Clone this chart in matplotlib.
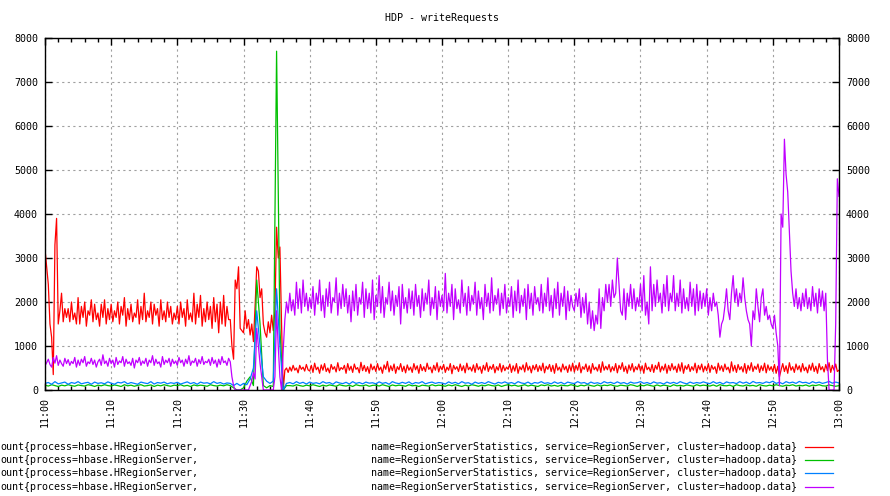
import matplotlib
matplotlib.use("Agg")
from matplotlib import pyplot as plt
import matplotlib.dates as mdates
import pandas as pd

# sample times, 11:00 .. 13:00
times15 = pd.date_range("2024-01-01 11:00", "2024-01-01 13:00", freq="15s")
times30 = pd.date_range("2024-01-01 11:00", "2024-01-01 13:00", freq="30s")

# red and purple read every 15 s, one row = 5 minutes
red = [
    3200, 2800, 2400, 1500, 1200, 350, 3300, 3900, 1500, 1800, 2200, 1550, 1850, 1650, 1850, 1550, 2000, 1600, 1750, 1500,
    2100, 1500, 1900, 1650, 2000, 1450, 1800, 1700, 2050, 1550, 1950, 1600, 1750, 1450, 1950, 1650, 2050, 1500, 1850, 1600,
    1950, 1550, 1800, 1650, 2000, 1500, 1900, 1700, 2100, 1450, 1850, 1600, 1950, 1550, 1750, 1650, 2050, 1500, 1900, 1600,
    2200, 1550, 1800, 1650, 2000, 1500, 1950, 1700, 1850, 1450, 2050, 1600, 1800, 1550, 2000, 1650, 1900, 1500, 1750, 1600,
    1900, 1500, 2000, 1650, 1850, 1450, 2050, 1600, 1750, 1550, 2200, 1500, 1950, 1650, 2150, 1450, 1850, 1550, 2000, 1600,
    1900, 1400, 2100, 1550, 1950, 1300, 2000, 1500, 2150, 1450, 1900, 1600, 1600, 1000, 700, 2500, 2300, 2800, 1400, 1350,
    1300, 1800, 1400, 1600, 1250, 1500, 1100, 1900, 2800, 2700, 2100, 2300, 1500, 1300, 1200, 1550, 1300, 1700, 1350, 1800,
    3700, 3000, 3250, 1500, 0, 450, 500, 400, 520, 430, 560, 450, 500, 390, 560, 470, 520, 430, 580, 460,
    430, 560, 400, 610, 460, 520, 380, 570, 450, 600, 420, 500, 390, 580, 470, 530, 410, 620, 440, 510,
    470, 560, 380, 600, 450, 540, 400, 590, 470, 510, 390, 630, 440, 560, 420, 530, 380, 590, 460, 540,
    420, 600, 450, 520, 380, 570, 470, 650, 410, 550, 440, 590, 380, 530, 460, 600, 420, 540, 390, 570,
    450, 520, 400, 600, 460, 550, 380, 580, 440, 530, 420, 610, 470, 520, 390, 560, 450, 620, 410, 540,
    460, 580, 400, 520, 450, 600, 370, 560, 470, 530, 420, 590, 440, 550, 390, 610, 460, 520, 430, 570,
    400, 600, 460, 530, 380, 560, 450, 620, 420, 540, 470, 580, 390, 530, 450, 600, 410, 560, 440, 520,
    470, 590, 400, 550, 430, 600, 380, 530, 460, 570, 410, 620, 450, 540, 390, 560, 460, 580, 420, 550,
    440, 610, 390, 540, 470, 580, 420, 560, 380, 600, 450, 520, 410, 590, 460, 540, 400, 570, 430, 610,
    410, 560, 450, 620, 390, 530, 470, 590, 420, 550, 380, 600, 460, 520, 430, 580, 400, 640, 450, 540,
    460, 580, 410, 530, 440, 600, 390, 560, 470, 620, 420, 540, 380, 570, 450, 600, 410, 530, 460, 590,
    430, 550, 380, 610, 460, 520, 420, 580, 400, 560, 470, 630, 410, 540, 450, 590, 380, 560, 440, 600,
    460, 540, 400, 590, 430, 620, 380, 550, 470, 580, 420, 530, 450, 610, 390, 560, 460, 590, 410, 540,
    440, 600, 400, 560, 470, 530, 380, 610, 450, 550, 420, 590, 460, 520, 390, 640, 430, 560, 400, 580,
    460, 530, 410, 600, 380, 560, 450, 620, 420, 540, 470, 590, 400, 550, 440, 610, 390, 570, 450, 530,
    420, 580, 380, 540, 300, 460, 600, 420, 550, 380, 620, 450, 530, 400, 590, 460, 550, 410, 600, 440,
    520, 390, 570, 450, 610, 420, 540, 380, 600, 460, 530, 410, 580, 440, 620, 400, 560, 450, 590, 420,
    450,
]

purple = [
    550, 620, 700, 580, 520, 740, 610, 780, 560, 680, 600, 540, 720, 600, 690, 560, 650, 600, 740, 520,
    680, 560, 700, 620, 760, 540, 640, 600, 720, 580, 680, 520, 640, 700, 560, 800, 600, 660, 540, 720,
    600, 680, 520, 740, 580, 660, 620, 760, 540, 700, 600, 640, 560, 720, 500, 680, 620, 740, 560, 660,
    600, 720, 540, 680, 620, 780, 560, 700, 600, 640, 520, 760, 580, 680, 620, 720, 540, 700, 600, 660,
    560, 740, 620, 680, 540, 700, 600, 780, 560, 660, 620, 720, 540, 690, 600, 760, 580, 650, 620, 700,
    560, 740, 600, 680, 520, 700, 580, 760, 620, 660, 560, 720, 640, 300, 100, 0, 0, 0, 0, 0,
    0, 0, 0, 0, 100, 200, 400, 250, 1400, 1000, 600, 300, 0, 0, 0, 0, 0, 0, 0, 300,
    1800, 1000, 300, 0, 900, 1600, 2000, 1750, 2200, 1800, 2050, 1700, 2450, 1850, 2300, 1750, 2500, 1900, 2200, 1800,
    2100, 1850, 2350, 1700, 2200, 1950, 2500, 1800, 2150, 1650, 2300, 1900, 2450, 1750, 2100, 2000, 2550, 1700, 2200, 1850,
    2400, 1900, 2300, 1750, 2150, 1550, 2250, 1800, 2400, 1700, 2100, 1950, 2450, 1650, 2300, 1850, 2200, 1750, 2500, 1600,
    2150, 1900, 2600, 1750, 2350, 1650, 2100, 1950, 2450, 1800, 2250, 1700, 2150, 1900, 2350, 1500, 2400, 1850, 2100, 1750,
    2300, 1850, 2250, 1700, 2400, 1900, 2150, 1650, 2300, 1800, 2200, 1950, 2500, 1700, 2100, 1850, 2350, 1600, 2250, 1900,
    2150, 1800, 2650, 1750, 2200, 1900, 2400, 1600, 2300, 1850, 2050, 1750, 2500, 1900, 2200, 1700, 2350, 1800, 2150, 1950,
    2450, 1700, 2250, 1850, 2100, 1600, 2400, 1900, 2200, 1750, 2550, 1800, 2150, 1950, 2300, 1700, 2200, 1850, 2400, 1750,
    2100, 1900, 2350, 1650, 2250, 1800, 2500, 1750, 2150, 1900, 2300, 1600, 2400, 1850, 2200, 1700, 2350, 1950, 2100, 1800,
    2400, 1750, 2200, 1900, 2550, 1800, 2150, 1650, 2300, 1850, 2450, 1700, 2200, 1900, 2350, 1600, 2250, 1800, 2150, 1900,
    1800, 2200, 1900, 2300, 1650, 2100, 1750, 2200, 1500, 2000, 1400, 1800, 1350, 1700, 1500, 2300, 1400, 2100, 1800, 2400,
    2000, 2400, 1900, 2500, 2100, 2200, 3000, 2400, 1800, 1700, 2300, 1600, 2200, 1900, 2400, 1850, 2300, 1800, 2100, 1900,
    2400, 1800, 2600, 1700, 2000, 1500, 2800, 1800, 2400, 1900, 2500, 2000, 2200, 1750, 2400, 1900, 2600, 1800, 2200, 2000,
    2600, 1800, 2200, 1900, 2500, 1750, 2300, 1850, 2100, 1800, 2450, 1900, 2300, 1700, 2400, 1800, 2250, 1850, 2200, 1900,
    2300, 1700, 2100, 1800, 2200, 1900, 2000, 1700, 1200, 1500, 1600, 1900, 2300, 1800, 1600, 2200, 2600, 2000, 2300, 1900,
    2200, 2000, 2550, 2100, 1800, 1600, 1500, 1000, 1800, 1600, 2300, 1900, 1550, 2100, 2300, 1700, 1900, 1600, 1700, 1500,
    1400, 1700, 1300, 1000, 100, 4000, 3700, 5700, 4900, 4500, 3600, 2700, 2200, 1900, 2300, 1850, 2100, 1800, 2200, 1900,
    2300, 1850, 2100, 1800, 2350, 1900, 2200, 1750, 2300, 1900, 2250, 1800, 2200, 700, 0, 0, 0, 0, 1500, 4800,
    4400,
]

# green and blue read every 30 s, one row = 10 minutes
green = [
    110, 90, 120, 100, 80, 110, 95, 120, 100, 85, 115, 100, 90, 120, 105, 80, 110, 95, 120, 100,
    90, 115, 100, 80, 120, 95, 110, 85, 105, 120, 90, 100, 115, 80, 110, 95, 120, 100, 85, 110,
    100, 120, 90, 105, 80, 115, 95, 110, 100, 85, 120, 100, 90, 110, 95, 120, 100, 50, 0, 0,
    50, 200, 300, 100, 2500, 1500, 100, 50, 100, 80, 7700, 1400, 0, 100, 100, 90, 120, 100, 85, 110,
    95, 120, 100, 80, 110, 90, 115, 100, 85, 120, 100, 90, 110, 80, 120, 100, 95, 115, 85, 105,
    110, 90, 120, 100, 80, 115, 95, 110, 100, 85, 120, 95, 105, 80, 110, 100, 90, 120, 95, 110,
    100, 85, 115, 95, 120, 100, 80, 110, 90, 120, 105, 85, 110, 95, 120, 100, 90, 115, 80, 105,
    120, 95, 110, 85, 100, 120, 90, 110, 95, 80, 115, 100, 120, 90, 105, 85, 110, 100, 95, 120,
    100, 80, 110, 95, 120, 100, 85, 115, 90, 110, 100, 120, 95, 85, 110, 100, 90, 120, 105, 80,
    110, 95, 120, 100, 85, 115, 90, 110, 100, 80, 120, 95, 105, 90, 115, 100, 85, 120, 95, 110,
    100, 90, 115, 85, 120, 100, 95, 110, 80, 120, 100, 90, 115, 95, 105, 85, 120, 100, 90, 110,
    95, 120, 100, 85, 110, 100, 120, 90, 105, 95, 115, 85, 110, 100, 120, 95, 90, 115, 100, 85,
    100,
]

blue = [
    150, 170, 130, 190, 140, 160, 180, 130, 170, 150, 190, 140, 160, 175, 130, 180, 150, 165, 140, 185,
    155, 130, 175, 160, 190, 140, 170, 150, 130, 180, 160, 145, 190, 135, 170, 155, 180, 140, 165, 150,
    175, 135, 160, 185, 145, 170, 130, 180, 155, 165, 140, 190, 150, 170, 135, 160, 150, 100, 150, 100,
    150, 120, 250, 500, 1800, 1000, 300, 200, 150, 200, 2300, 1000, 0, 150, 170, 140, 190, 150, 175, 135,
    180, 150, 165, 140, 190, 155, 170, 130, 185, 160, 145, 175, 135, 190, 150, 170, 140, 180, 155, 165,
    140, 185, 150, 170, 130, 190, 160, 145, 175, 150, 185, 135, 170, 155, 190, 140, 165, 180, 150, 170,
    160, 135, 185, 150, 175, 140, 190, 155, 165, 130, 180, 150, 170, 145, 190, 160, 135, 175, 155, 185,
    150, 170, 140, 190, 160, 145, 180, 135, 170, 155, 190, 150, 165, 140, 185, 150, 175, 135, 180, 160,
    145, 190, 155, 170, 135, 180, 150, 165, 140, 190, 160, 175, 145, 185, 150, 170, 135, 180, 155, 165,
    190, 150, 170, 140, 185, 155, 165, 135, 180, 150, 175, 145, 190, 160, 140, 180, 150, 170, 155, 185,
    160, 145, 190, 150, 175, 135, 185, 160, 170, 145, 190, 155, 180, 140, 195, 160, 170, 150, 185, 165,
    200, 150, 175, 140, 190, 160, 180, 150, 195, 165, 175, 145, 190, 160, 180, 150, 170, 195, 155, 180,
    160,
]

series_colors = ["#ff0000", "#00c000", "#0080ff", "#c000ff"]
legend_left = "ount{process=hbase.HRegionServer,"
legend_right = "name=RegionServerStatistics, service=RegionServer, cluster=hadoop.data}"

plt.rcParams["font.family"] = "DejaVu Sans Mono"
plt.rcParams["font.size"] = 7.2

fig = plt.figure(figsize=(8.9, 4.96), dpi=100)
ax = fig.add_axes([45 / 890, 106 / 496, 794 / 890, 352 / 496])

ax.plot(times15, red, color=series_colors[0], lw=0.9)
ax.plot(times30, green, color=series_colors[1], lw=0.9)
ax.plot(times30, blue, color=series_colors[2], lw=0.9)
ax.plot(times15, purple, color=series_colors[3], lw=0.9)

ax.set_xlim(times15[0], times15[-1])
ax.set_ylim(0, 8000)
ax.set_yticks(range(0, 8001, 1000))

ax.xaxis.set_major_locator(mdates.MinuteLocator(byminute=range(0, 60, 10)))
ax.xaxis.set_minor_locator(mdates.MinuteLocator(byminute=range(0, 60, 2)))
ax.xaxis.set_major_formatter(mdates.DateFormatter("%H:%M"))
plt.setp(ax.get_xticklabels(), rotation=90)

ax.tick_params(which="both", direction="in", top=True, right=True,
               labelright=True, width=1, colors="black")
ax.tick_params(which="major", length=5, pad=5)
ax.tick_params(which="minor", length=3)
ax.grid(True, which="major", color="#a0a0a0", ls=(0, (2, 3)), lw=0.8)
for sp in ax.spines.values():
    sp.set_linewidth(1)

fig.text(442 / 890, 1 - 18 / 496, "HDP - writeRequests", ha="center", va="center")

# legend block at the bottom, gnuplot style
rows_y = [447, 460, 473, 487]
for y, color in zip(rows_y, series_colors):
    fig.text(0, 1 - y / 496, legend_left, ha="left", va="center")
    fig.text(797 / 890, 1 - y / 496, legend_right, ha="right", va="center")
    fig.add_artist(plt.Line2D([805 / 890, 833 / 890], [1 - y / 496, 1 - y / 496],
                              color=color, lw=0.9, transform=fig.transFigure))

fig.savefig("out.png", dpi=100)
